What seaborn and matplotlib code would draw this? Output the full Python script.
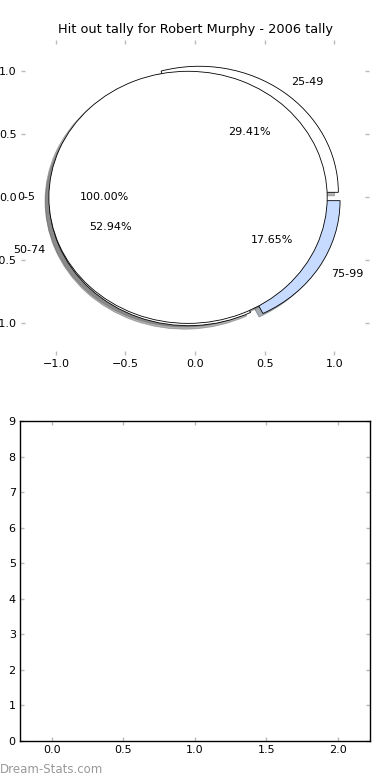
import matplotlib
matplotlib.use("Agg")
import matplotlib.pyplot as plt
import seaborn as sns

sns.set_style("white")
plt.rcParams['font.family'] = ['DejaVu Sans']
plt.rcParams['text.color'] = 'black'
plt.rcParams['xtick.labelcolor'] = 'black'
plt.rcParams['ytick.labelcolor'] = 'black'

title = "Hit out tally for Robert Murphy - 2006 tally"
outer_labels = ["0-5"]
outer_values = [1]
inner_labels = ["25-49", "50-74", "75-99"]
inner_values = [5, 9, 3]
inner_colors = ["#ffffff", "#ffffff", "#c6dbff"]
outer_colors = ["#ffffff"]
y_ticks_bottom = list(range(0, 10))
x_ticks_bottom = [0.0, 0.5, 1.0, 1.5, 2.0]

fig = plt.figure(figsize=(3.9, 7.8), dpi=100)
ax1 = fig.add_axes([0.054, 0.545, 0.892, 0.404])
ax2 = fig.add_axes([0.051, 0.050, 0.897, 0.410])

wedge_kw = dict(edgecolor="black", linewidth=0.6)
txt_kw = dict(fontsize=8, color="black")
ax1.pie(inner_values, labels=inner_labels, colors=inner_colors,
        explode=[0.05] * len(inner_values), autopct="%1.2f%%",
        shadow=dict(shade=0.6), wedgeprops=wedge_kw, textprops=txt_kw)
ax1.pie(outer_values, labels=outer_labels, colors=outer_colors,
        explode=[0.05], autopct="%1.2f%%", shadow=dict(shade=0.6),
        wedgeprops=wedge_kw, textprops=txt_kw)
ax1.set_aspect("auto")
ax1.set_xlim(-1.25, 1.25)
ax1.set_ylim(-1.25, 1.25)
ax1.set_xticks([-1.0, -0.5, 0.0, 0.5, 1.0])
ax1.set_yticks([-1.0, -0.5, 0.0, 0.5, 1.0])
ax1.set_frame_on(False)
ax1.set_title(title, fontsize=9.3, pad=5, color="black")

ax2.set_xlim(-0.225, 2.225)
ax2.set_ylim(0, 9)
ax2.set_xticks(x_ticks_bottom)
ax2.set_yticks(y_ticks_bottom)
for s in ax2.spines.values():
    s.set_linewidth(1.0)
    s.set_color("black")

for ax in (ax1, ax2):
    ax.tick_params(direction="in", length=3, width=1, color="#bbbbbb",
                   labelcolor="black",
                   top=True, right=True, bottom=True, left=True,
                   labelsize=8, pad=3)

fig.text(0.0, 0.005, "Dream-Stats.com", fontsize=8.5, color="#999999",
         ha="left", va="bottom")

fig.savefig("out.png", dpi=100)
